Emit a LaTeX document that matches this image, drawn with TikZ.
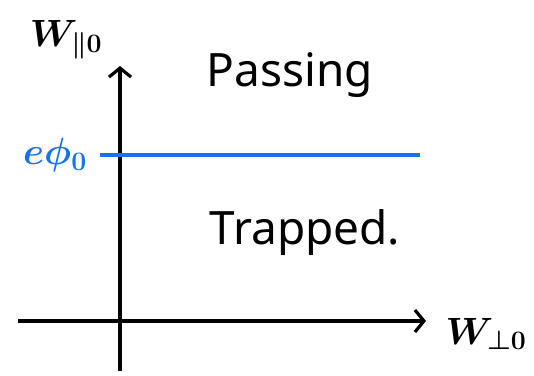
\RequirePackage{fix-cm}
\documentclass[tikz,border=0pt]{standalone}
\usepackage{fontspec}
\setmainfont{Noto Sans}
\usetikzlibrary{arrows.meta}
\definecolor{penblue}{RGB}{20,115,240}
\tikzset{
  axis/.style={line width=3.2pt,-{Straight Barb[length=9pt,width=22pt,line width=3.2pt]}},
  level/.style={line width=3.2pt,penblue},
  lbl/.style={font=\fontsize{38}{42}\selectfont\boldmath},
  region/.style={font=\fontsize{46}{52}\selectfont}
}
\begin{document}
\begin{tikzpicture}[x=1pt,y=-1pt]
\useasboundingbox (0,0) rectangle (534,375);
\coordinate (ybot) at (120,371);
\coordinate (ytop) at (120,66);
\coordinate (xleft) at (18,321);
\coordinate (xright) at (426,321);
\coordinate (bl) at (100,155);
\coordinate (br) at (420,155);
\draw[axis] (ybot) -- (ytop);
\draw[axis] (xleft) -- (xright);
\draw[level] (bl) -- (br);
\node[lbl] (wpar) at (66,40) {$W_{\parallel 0}$};
\node[lbl] (wperp) at (486,334) {$W_{\perp 0}$};
\node[lbl,text=penblue] (ephi) at (55,155) {$e\phi_0$};
\node[region] (pass) at (290,75) {Passing};
\node[region] (trap) at (305,233) {Trapped.};
\end{tikzpicture}
\end{document}
